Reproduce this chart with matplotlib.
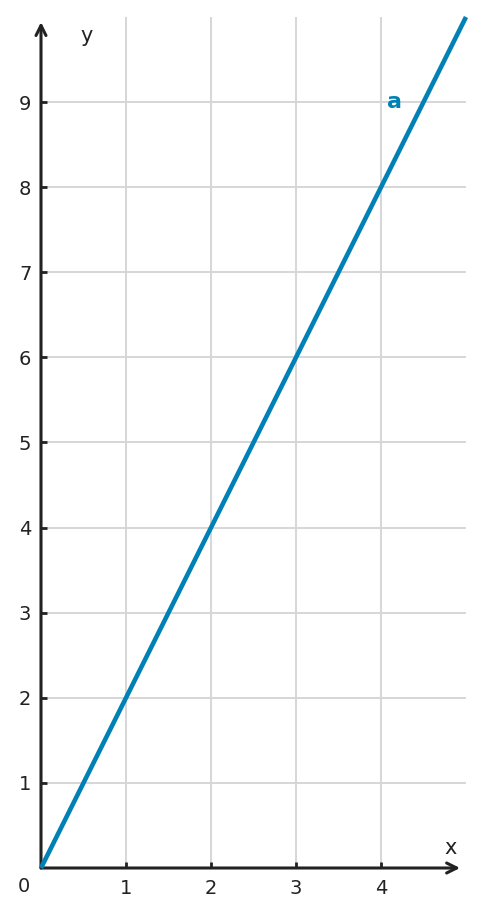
import matplotlib.pyplot as plt

# 데이터
x_vals = [0, 5]
y_vals = [0, 10]
x_ticks = [1, 2, 3, 4]
y_ticks = [1, 2, 3, 4, 5, 6, 7, 8, 9]
line_name = 'a'

blue = '#0081b6'
dark = '#222222'

fig = plt.figure(figsize=(4.84, 9.17), dpi=100)
ax = fig.add_axes([41 / 484, 49 / 917, 425 / 484, 851 / 917])
ax.set_xlim(0, 5)
ax.set_ylim(0, 10)

for s in ax.spines.values():
    s.set_visible(False)

# 그리드
for t in x_ticks:
    ax.axvline(t, color='#d6d6d6', lw=1.4, zorder=0)
for t in y_ticks:
    ax.axhline(t, color='#d6d6d6', lw=1.4, zorder=0)

ax.set_xticks(x_ticks)
ax.set_yticks(y_ticks)
ax.tick_params(axis='both', direction='in', length=4.5, width=2, color=dark,
               labelsize=14, labelcolor=dark)
ax.tick_params(axis='x', pad=8)
ax.tick_params(axis='y', pad=7)

# 축 화살표
ax.annotate('', xy=(4.93, 0), xytext=(0, 0),
            arrowprops=dict(arrowstyle='->', lw=2.2, color=dark, mutation_scale=18,
                            shrinkA=0, shrinkB=0), annotation_clip=False)
ax.annotate('', xy=(0, 9.94), xytext=(0, 0),
            arrowprops=dict(arrowstyle='->', lw=2.2, color=dark, mutation_scale=18,
                            shrinkA=0, shrinkB=0), annotation_clip=False)

ax.text(-0.2, -0.22, '0', fontsize=14, color=dark, ha='center', va='center')
ax.text(4.82, 0.23, 'x', fontsize=15, color=dark, ha='center', va='center')
ax.text(0.54, 9.78, 'y', fontsize=15, color=dark, ha='center', va='center')

# 직선
ax.plot(x_vals, y_vals, color=blue, lw=3.3, solid_capstyle='butt', clip_on=False, zorder=3)
ax.text(4.16, 9.0, line_name, fontsize=16, fontweight='bold', color=blue,
        ha='center', va='center')

fig.savefig('out.png', dpi=100)
